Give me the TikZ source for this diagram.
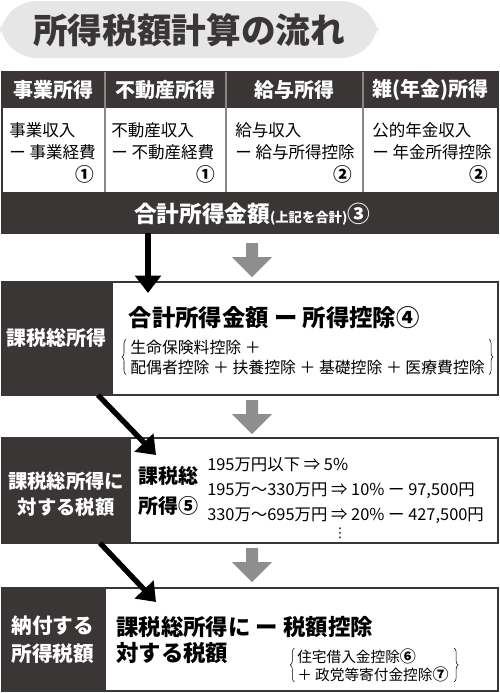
\documentclass[tikz,border=0pt]{standalone}
\usepackage{fontspec}
\setmainfont{Noto Sans CJK JP}
\newfontfamily\symfont{DejaVu Sans}
\usetikzlibrary{arrows.meta, decorations.pathreplacing}

\begin{document}
\begin{tikzpicture}[x=0.75pt, y=-0.75pt]
    % Define colours
    \definecolor{boxDark}{HTML}{3A3636}
    \definecolor{titleGray}{HTML}{E6E6E6}
    \definecolor{arrowGray}{HTML}{8E8E8E}
    \definecolor{lineGray}{HTML}{8A8686}

    % Define styles
    \tikzset{
        headText/.style={text=white, font=\bfseries\fontsize{15pt}{18pt}\selectfont},
        bodyText/.style={anchor=north west, align=left, inner sep=0pt, font=\fontsize{12.4pt}{16.5pt}\selectfont},
        circNum/.style={anchor=east, font=\bfseries\fontsize{14pt}{15pt}\selectfont},
        sideLabel/.style={text=white, align=center, font=\bfseries\fontsize{15pt}{20pt}\selectfont},
        braceText/.style={anchor=west, align=left, inner sep=0pt, font=\fontsize{11.5pt}{15pt}\selectfont},
        braceLine/.style={decorate, decoration={brace, amplitude=3pt}, thin},
        flowArrow/.style={line width=4pt, -{Triangle[width=19pt, length=13pt]}}
    }

    \useasboundingbox (0,0) rectangle (500,693);

    % Draw title
    \fill[titleGray, rounded corners=28] (0,1) rectangle (378,58);
    \node[font=\bfseries\fontsize{26pt}{30pt}\selectfont, text=boxDark] (title) at (189,30) {所得税額計算の流れ};

    % Draw income table
    \fill[boxDark] (2,72) rectangle (498,108);
    \fill[boxDark] (2,192) rectangle (498,233);
    \draw[boxDark, line width=1.5pt] (2,72) rectangle (498,233);
    \foreach \x in {105,226,363}
        \draw[lineGray, line width=1pt] (\x,72) -- (\x,192);

    % Label columns
    \node[headText] (bizHead)  at (53,90)  {事業所得};
    \node[headText] (realHead) at (165,90) {不動産所得};
    \node[headText] (salHead)  at (294,90) {給与所得};
    \node[headText] (penHead)  at (430,90) {雑(年金)所得};

    \node[bodyText] (bizBody)  at (9,122)   {事業収入\\ー 事業経費};
    \node[bodyText] (realBody) at (111,122) {不動産収入\\ー 不動産経費};
    \node[bodyText] (salBody)  at (235,122) {給与収入\\ー 給与所得控除};
    \node[bodyText] (penBody)  at (372,122) {公的年金収入\\ー 年金所得控除};

    \node[circNum] (bizNum)  at (99,174)  {①};
    \node[circNum] (realNum) at (220,174) {①};
    \node[circNum] (salNum)  at (357,174) {②};
    \node[circNum] (penNum)  at (493,174) {②};

    \node[text=white, font=\bfseries\fontsize{17pt}{20pt}\selectfont] (total) at (252,214)
        {合計所得金額{\fontsize{10pt}{12pt}\selectfont(上記を合計)}③};

    % Draw taxable income box
    \fill[boxDark] (2,282) rectangle (113,395);
    \draw[boxDark, line width=1.5pt] (2,282) rectangle (498,395);
    \node[sideLabel] (taxableLabel) at (57,338) {課税総所得};
    \node[anchor=west, font=\bfseries\fontsize{17.5pt}{20pt}\selectfont] (taxableMain) at (124,318)
        {合計所得金額 ー 所得控除④};
    \node[braceText, font=\fontsize{11.9pt}{15pt}\selectfont] (deduct) at (130,357)
        {生命保険料控除 ＋\\配偶者控除 ＋ 扶養控除 ＋ 基礎控除 ＋ 医療費控除};
    \draw[braceLine] ([xshift=-3pt]deduct.south west) -- ([xshift=-3pt]deduct.north west);
    \draw[braceLine] ([xshift=3pt]deduct.north east) -- ([xshift=3pt]deduct.south east);

    % Draw tax on taxable income box
    \fill[boxDark] (2,438) rectangle (131,543);
    \draw[boxDark, line width=1.5pt] (2,438) rectangle (498,543);
    \node[sideLabel, font=\bfseries\fontsize{14.5pt}{20pt}\selectfont] (taxLabel) at (66,494) {課税総所得に\\対する税額};
    \node[align=left, font=\bfseries\fontsize{15pt}{22.5pt}\selectfont] (taxBase) at (168,491) {課税総\\所得⑤};
    \node[bodyText, font=\fontsize{12.3pt}{18.8pt}\selectfont] (rates) at (207,457)
        {195万円以下 ⇒ 5\%\\195万〜330万円 ⇒ 10\% ー 97,500円\\330万〜695万円 ⇒ 20\% ー 427,500円};
    \node[font=\symfont\fontsize{10pt}{12pt}\selectfont] (moreRates) at (340,533) {⋮};

    % Draw tax payable box
    \fill[boxDark] (2,588) rectangle (106,691);
    \draw[boxDark, line width=1.5pt] (2,588) rectangle (498,691);
    \node[sideLabel, font=\bfseries\fontsize{15.5pt}{21pt}\selectfont] (payLabel) at (53,640) {納付する\\所得税額};
    \node[bodyText, font=\bfseries\fontsize{16.8pt}{19.5pt}\selectfont] (payMain) at (116,616)
        {課税総所得に ー 税額控除\\対する税額};
    \node[braceText, font=\fontsize{11pt}{13.5pt}\selectfont] (credit) at (297,665)
        {住宅借入金控除{\bfseries\large ⑥}\\＋ 政党等寄付金控除{\bfseries\large ⑦}};
    \draw[braceLine] ([xshift=-2pt]credit.south west) -- ([xshift=-2pt]credit.north west);
    \draw[braceLine] ([xshift=4pt]credit.north east) -- ([xshift=4pt]credit.south east);

    % Draw gray flow arrows
    \foreach \y in {243,400,548}
        \fill[arrowGray] (246,\y) -- (258,\y) -- (258,\y+14) -- (272,\y+14)
            -- (252,\y+34) -- (232,\y+14) -- (246,\y+14) -- cycle;

    % Draw black flow arrows
    \coordinate (jump1s) at (148,233);
    \coordinate (jump1e) at (148,293);
    \coordinate (jump2s) at (98,395);
    \coordinate (jump2e) at (156,455);
    \coordinate (jump3s) at (100,543);
    \coordinate (jump3e) at (156,602);
    \draw[flowArrow] (jump1s) -- (jump1e);
    \draw[flowArrow] (jump2s) -- (jump2e);
    \draw[flowArrow] (jump3s) -- (jump3e);

\end{tikzpicture}
\end{document}
